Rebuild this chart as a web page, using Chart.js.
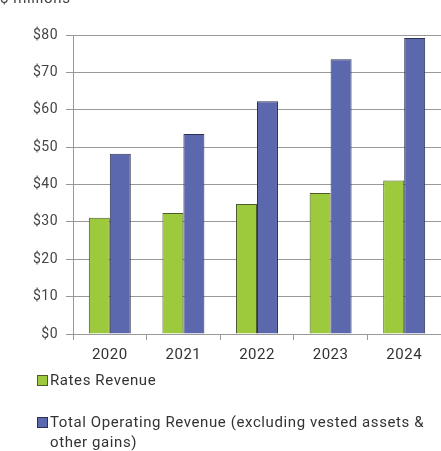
<!DOCTYPE html>
<html><head><meta charset="utf-8">
<script src="https://cdn.jsdelivr.net/npm/chart.js@4/dist/chart.umd.min.js"></script>
<style>html,body{margin:0;padding:0;background:#fff;overflow:hidden}#wrap{width:441px;height:451px;position:relative}</style>
</head><body><div id="wrap"><canvas id="c" width="441" height="451"></canvas></div>
<script>
const categories = ["2020","2021","2022","2023","2024"];
const ratesRevenue = [31.1, 32.4, 34.8, 37.7, 41.1];
const totalOperatingRevenue = [48.2, 53.5, 62.3, 73.5, 79.2];
const seriesLabels = ["Rates Revenue", "Total Operating Revenue (excluding vested assets & other gains)"];
const legendLines = [["Rates Revenue"], ["Total Operating Revenue (excluding vested assets &", "other gains)"]];
const yTicks = [0,10,20,30,40,50,60,70,80];
const unitLabel = "$ millions";

const FONT = "Roboto, 'Liberation Sans', sans-serif";
const colors = ["#9dca3c", "#5c68ae"];
const borders = ["#4d5a2a", "#2e3250"];

const spacing = {
  id: 'spacing',
  beforeDraw(chart) { chart.ctx.letterSpacing = '0.5px'; }
};

const extras = {
  id: 'extras',
  afterDraw(chart) {
    const ctx = chart.ctx;
    ctx.save();
    ctx.letterSpacing = '0.6px';
    ctx.fillStyle = '#444';
    ctx.font = "15px " + FONT;
    ctx.textBaseline = 'alphabetic';
    ctx.textAlign = 'left';
    ctx.fillText(unitLabel, 0, 3);
    const rows = [[381],[423,443]];
    chart.data.datasets.forEach((ds, i) => {
      const y0 = rows[i][0];
      ctx.fillStyle = colors[i];
      ctx.fillRect(37.5, y0 - 5.5, 10, 10);
      ctx.strokeStyle = borders[i];
      ctx.lineWidth = 1;
      ctx.strokeRect(37.5, y0 - 5.5, 10, 10);
      ctx.fillStyle = '#333';
      ctx.font = "15px " + FONT;
      ctx.textBaseline = 'middle';
      legendLines[i].forEach((t, j) => ctx.fillText(t, 50, rows[i][j]));
    });
    ctx.restore();
  }
};

new Chart(document.getElementById('c'), {
  type: 'bar',
  data: {
    labels: categories,
    datasets: [
      { label: seriesLabels[0], data: ratesRevenue, backgroundColor: colors[0], borderColor: borders[0], borderWidth: 1, borderSkipped: 'bottom' },
      { label: seriesLabels[1], data: totalOperatingRevenue, backgroundColor: colors[1], borderColor: borders[1], borderWidth: 1, borderSkipped: 'bottom' }
    ]
  },
  options: {
    responsive: false,
    animation: false,
    devicePixelRatio: 1,
    layout: { padding: { top: 35, right: 0, left: 0, bottom: 0 } },
    plugins: { legend: { display: false }, tooltip: { enabled: false } },
    datasets: { bar: { categoryPercentage: 0.57, barPercentage: 1.0 } },
    scales: {
      x: {
        afterFit(s) { s.height = 117; },
        grid: { display: true, drawOnChartArea: false, drawTicks: true, tickLength: 6, color: '#999', offset: true },
        border: { display: true, color: '#999', width: 1 },
        ticks: { color: '#333', font: { family: FONT, size: 15 }, padding: 6 }
      },
      y: {
        min: 0, max: 80,
        afterFit(s) { s.width = 73; },
        afterBuildTicks(s) { s.ticks = yTicks.map(v => ({ value: v })); },
        grid: { color: '#999', lineWidth: 1, tickLength: 7, drawTicks: true },
        border: { display: true, color: '#999', width: 1 },
        ticks: { color: '#444', font: { family: FONT, size: 14 }, padding: 8, callback: v => '$' + v }
      }
    }
  },
  plugins: [spacing, extras]
});
</script></body></html>
